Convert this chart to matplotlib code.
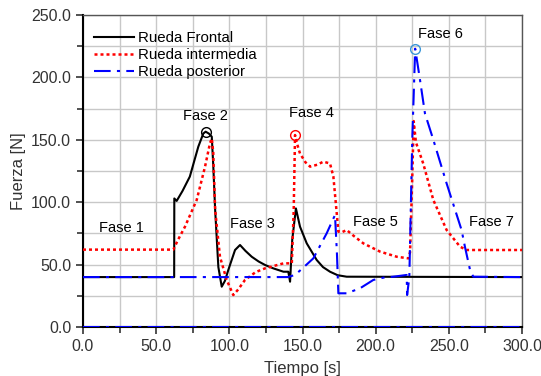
import matplotlib.pyplot as plt
from matplotlib.ticker import MultipleLocator, FormatStrFormatter

plt.rcParams["font.family"] = ["Liberation Sans", "DejaVu Sans"]

# Rueda Frontal (negro)
t_front = [0, 62.3, 62.4, 64, 68, 73, 78.8, 82.2, 83.8, 86, 88, 89, 90.3, 92.5, 94.8, 97, 99.3, 103.9, 107.3,
           111, 115.3, 120, 124.4, 130, 137, 140.3, 141.5, 143, 145.5, 148.3, 152.9, 159.7, 164, 168.8,
           174, 180.2, 300]
f_front = [40, 40, 103, 101, 109, 120.5, 144.5, 155, 156.5, 155, 152.5, 130, 94, 48, 32.3, 37, 45.7, 61.7, 65.7,
           61, 56.3, 52.5, 49.7, 47, 44.3, 44.3, 36.3, 70, 95, 80.4, 67, 53.7, 48, 44.3,
           41.5, 40.3, 40]

# Rueda intermedia (rojo)
t_mid = [0, 61.7, 65, 69.7, 77.7, 83.4, 86.8, 88, 89, 90.3, 93.6, 98.2, 102.7, 106, 110.7, 118, 124.4, 137,
         142.7, 144, 144.9, 146.5, 148.3, 152, 155.2, 160, 164.3, 168.8, 171.1, 173.4, 174.5, 177, 180.2,
         185, 191.6, 203, 214.4, 222.4, 223.5, 225, 226, 227.5, 232.5, 239.4, 248.5, 257.7, 262.2, 300]
f_mid = [62, 62, 70, 80.4, 101.8, 128.5, 147.4, 151, 140, 94, 56.3, 37.7, 25.6, 30, 37.7, 44, 47, 51,
         51, 94, 153.8, 146, 139, 132, 128.5, 130, 132.5, 131, 120.5, 91, 76.4, 76, 77.7,
         73, 67, 60.4, 56.3, 55, 60, 120, 165, 148, 131, 101.8, 77.7, 64.3, 61.7, 61.7]

# Rueda posterior (azul)
t_post = [0, 140, 144.9, 150, 157.4, 166.5, 172.2, 173.5, 174.5, 180.2, 189.3, 198.4, 205, 212, 221.2,
          221.5, 223, 225, 227, 230.3, 233.7, 239.4, 248.5, 258.7, 261, 264.5, 266.7, 300]
f_post = [40, 40, 41.7, 47, 55, 75, 89.7, 60, 27, 27, 31, 37.7, 39.5, 40.3, 41.7,
          25.6, 40, 150, 223, 198, 171, 150, 115, 77.7, 64.3, 45.7, 40.3, 40]

t_zero = [0, 300]
f_zero = [0, 0]

# marcadores de fase
peaks_t = [84, 144.9, 227]
peaks_f = [156, 153.8, 223]
peak_colors = ["black", "red", "#3a96d8"]

fase_labels = ["Fase 1", "Fase 2", "Fase 3", "Fase 4", "Fase 5", "Fase 6", "Fase 7"]
fase_t = [26.4, 83.4, 116, 156, 199.6, 244.4, 279]
fase_f = [79, 169, 82.5, 171.7, 84, 235, 84]

dashdot = (0, (8, 3, 1.5, 3))

fig = plt.figure(figsize=(5.41, 3.76), dpi=100)
ax = fig.add_axes([83 / 541, 1 - 327 / 376, 439 / 541, 312 / 376])

ax.plot(t_zero, f_zero, color="blue", ls=dashdot, lw=1.5, zorder=3)
ax.plot(t_front, f_front, color="black", lw=1.5, label="Rueda Frontal", zorder=3)
ax.plot(t_mid, f_mid, color="red", ls=(0, (1.2, 1.2)), lw=1.8, label="Rueda intermedia", zorder=4)
ax.plot(t_post, f_post, color="blue", ls=dashdot, lw=1.5, label="Rueda posterior", zorder=5)

for pt, pf, pc in zip(peaks_t, peaks_f, peak_colors):
    ax.plot(pt, pf, marker="o", ms=7, mfc="none", mec=pc, mew=1, zorder=6)

for lab, xt, yt in zip(fase_labels, fase_t, fase_f):
    ax.text(xt, yt, lab, fontsize=10.5, ha="center", va="center")

ax.set_xlim(0, 300)
ax.set_ylim(0, 250)
ax.xaxis.set_major_locator(MultipleLocator(50))
ax.xaxis.set_minor_locator(MultipleLocator(25))
ax.yaxis.set_major_locator(MultipleLocator(50))
ax.yaxis.set_minor_locator(MultipleLocator(25))
ax.xaxis.set_major_formatter(FormatStrFormatter("%.1f"))
ax.yaxis.set_major_formatter(FormatStrFormatter("%.1f"))
ax.grid(which="both", color="#c8c8c8", lw=1)
ax.set_axisbelow(True)
ax.tick_params(which="both", direction="out", labelsize=11.5, colors="#333333")
ax.tick_params(which="major", length=5, width=1.2)
ax.tick_params(which="minor", length=4, width=1.2)
for s in ["left", "bottom"]:
    ax.spines[s].set_color("black")
    ax.spines[s].set_linewidth(1.5)
for s in ["top", "right"]:
    ax.spines[s].set_color("#555555")
    ax.spines[s].set_linewidth(1)

ax.set_xlabel("Tiempo [s]", fontsize=12, color="#333333", labelpad=5)
ax.set_ylabel("Fuerza [N]", fontsize=12, color="#333333", labelpad=4)

leg = ax.legend(loc="upper left", bbox_to_anchor=(0.0, 0.982), frameon=False, fontsize=10.8,
                handlelength=2.7, handletextpad=0.25, labelspacing=0.2, borderaxespad=0.3)

fig.savefig("out.png", dpi=100)
